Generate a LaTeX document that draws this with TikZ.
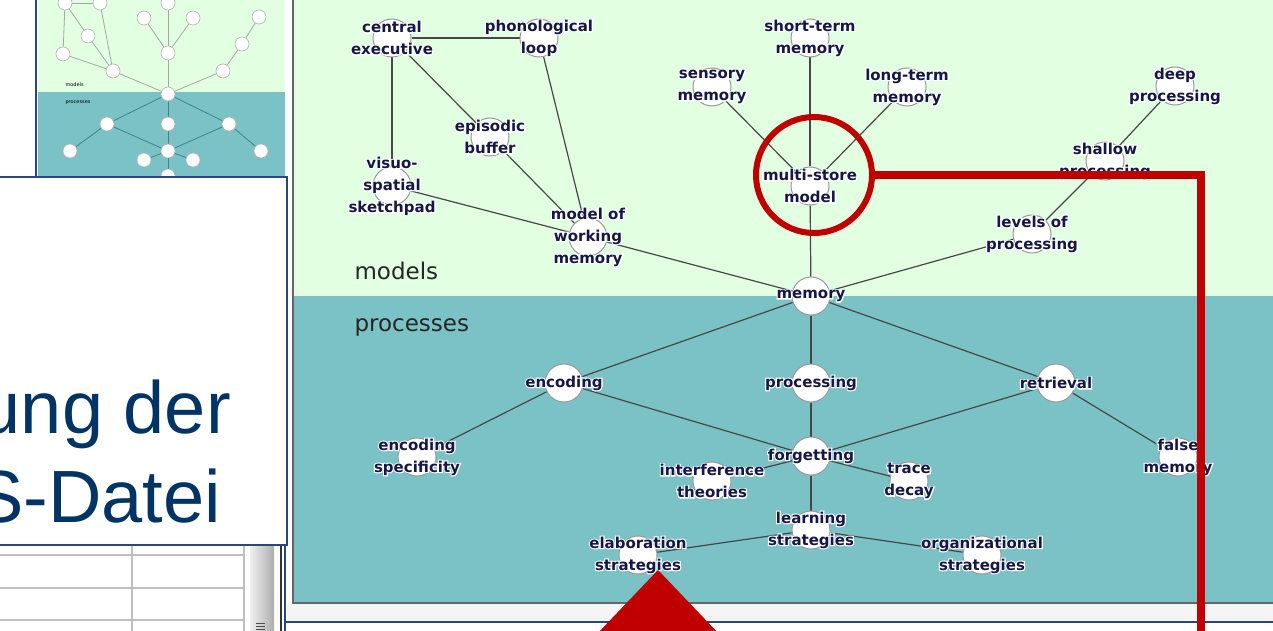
\documentclass[tikz,border=0pt]{standalone}
\usepackage{fontspec}
\setmainfont{DejaVu Sans}
\newfontfamily\lblfont{DejaVu Sans Bold}
\newfontfamily\halofont{DejaVu Sans Bold}[FakeBold=15,Color=FFFFFF]
\newfontfamily\bigfont{Liberation Sans}
\definecolor{panelgreen}{RGB}{226,255,226}
\definecolor{panelteal}{RGB}{123,194,198}
\definecolor{minilink}{RGB}{62,132,138}
\definecolor{hired}{RGB}{192,0,0}
\definecolor{navy}{RGB}{22,22,72}
\definecolor{slideblue}{RGB}{0,51,102}
\definecolor{boxblue}{RGB}{38,72,122}
\pgfdeclarelayer{back}
\pgfdeclarelayer{links}
\pgfsetlayers{back,links,main}
\begin{document}
\begin{tikzpicture}[x=1pt,y=-1pt,
    dot/.style={circle,draw=black!40,fill=white,line width=1pt,minimum size=38pt,inner sep=0pt},
    minidot/.style={circle,draw=black!30,fill=white,line width=0.6pt,minimum size=14pt,inner sep=0pt},
    lbl/.style={font=\lblfont\fontsize{15}{22}\selectfont,text=navy,align=center,inner sep=0pt},
    halo/.style={lbl,font=\halofont\fontsize{15}{22}\selectfont},
    link/.style={draw=black!72,line width=1.2pt},
    bigtxt/.style={font=\bigfont\fontsize{74}{74}\selectfont,text=slideblue,inner sep=0pt}]
    \useasboundingbox (0,0) rectangle (1273,631);
    \clip (0,0) rectangle (1273,631);

    % panels
    \begin{pgfonlayer}{back}
        \fill[panelgreen] (294,0) rectangle (1273,296);
        \fill[panelteal] (294,296) rectangle (1273,603);
        \draw[black!60,line width=1.5pt] (293,0) -- (293,603) -- (1273,603);
        \fill[black!4] (287,604) rectangle (1273,621);
        \draw[boxblue,line width=2.5pt] (285,622) -- (1273,622);
        \draw[boxblue,line width=2pt] (285,545) -- (285,631);
        \fill[panelgreen] (38,0) rectangle (285,92);
        \fill[panelteal] (38,92) rectangle (285,177);
        \draw[boxblue,line width=2pt] (36,0) -- (36,177);
    \end{pgfonlayer}

    % main map
    \foreach \n/\p/\t in {
        ce/{392,38}/{central\\executive},
        pl/{539,38}/{phonological\\loop},
        eb/{490,137}/{episodic\\buffer},
        vs/{392,186}/{visuo-\\spatial\\sketchpad},
        wm/{588,237}/{model of\\working\\memory},
        stm/{810,38}/{short-term\\memory},
        sm/{712,87}/{sensory\\memory},
        ltm/{907,87}/{long-term\\memory},
        ms/{810,186}/{multi-store\\model},
        dp/{1175,86}/{deep\\processing},
        sp/{1105,161}/{shallow\\processing},
        lp/{1032,234}/{levels of\\processing},
        mem/{811,296}/{memory},
        enc/{564,383}/{encoding},
        proc/{811,383}/{processing},
        ret/{1056,383}/{retrieval},
        es/{417,457}/{encoding\\specificity},
        fg/{811,456}/{forgetting},
        it/{712,481}/{interference\\theories},
        td/{909,481}/{trace\\decay},
        fm/{1178,457}/{false\\memory},
        ls/{811,530}/{learning\\strategies},
        el/{638,555}/{elaboration\\strategies},
        os/{982,555}/{organizational\\strategies}}
        \node[dot,label={[halo]center:\t},label={[lbl]center:\t}] (\n) at (\p) {};

    \node[anchor=west,font=\fontsize{23}{23}\selectfont,text=black!85] (models) at (351,271) {models};
    \node[anchor=west,font=\fontsize{23}{23}\selectfont,text=black!85] (procs) at (351,327) {processes};

    % thumbnail
    \foreach \n/\p in {ce/{65,3},pl/{100,3},stm/{168,3},sm/{144,18},ltm/{193,18},dp/{259,17},
        eb/{88,36},vs/{63,54},ms/{168,53},sp/{242,44},wm/{113,71},lp/{223,71},mem/{168,94},
        enc/{107,124},proc/{168,124},ret/{229,124},es/{70,151},fg/{168,151},fm/{261,151},
        it/{144,160},td/{193,160},ls/{168,176}}
        \node[minidot] (m\n) at (\p) {};
    \node[anchor=west,font=\fontsize{5}{5}\selectfont] (mmodels) at (62,85) {models};
    \node[anchor=west,font=\fontsize{5}{5}\selectfont] (mprocs) at (62,103) {processes};

    \begin{pgfonlayer}{links}
        \foreach \a/\b in {ce/pl,ce/vs,ce/eb,eb/wm,pl/wm,vs/wm,wm/mem,stm/ms,sm/ms,ltm/ms,
            ms/mem,mem/lp,lp/sp,sp/dp} {
            \draw[link] (\a) -- (\b);
            \draw[black!35,line width=0.8pt] (m\a) -- (m\b);
        }
        \foreach \a/\b in {mem/enc,mem/proc,mem/ret,enc/es,enc/fg,proc/fg,ret/fg,ret/fm,
            fg/it,fg/td,fg/ls} {
            \draw[link] (\a) -- (\b);
            \draw[minilink,line width=0.8pt] (m\a) -- (m\b);
        }
        \draw[link] (ls) -- (el);
        \draw[link] (ls) -- (os);
    \end{pgfonlayer}

    % slide box and table
    \draw[boxblue,line width=1.5pt,fill=white] (-2,177) rectangle (287,545);
    \node[bigtxt,anchor=base east] (line1) at (231,433) {ung der};
    \node[bigtxt,anchor=base east] (line2) at (221,522) {S-Datei};
    \draw[black!25,line width=1.5pt] (0,555) -- (245,555) (0,588) -- (245,588) (0,620) -- (245,620)
        (132,546) -- (132,631) (244,546) -- (244,631);
    \shade[left color=black!6,right color=black!32] (250,546) rectangle (274,631);
    \draw[black!80,line width=2pt] (281,546) -- (281,631);
    \draw[black!70,line width=0.8pt] (256,623) -- (265,623) (256,626) -- (265,626) (256,629) -- (265,629);

    % highlight
    \node[circle,draw=hired,line width=6pt,minimum size=116pt,inner sep=0pt] (hl) at (814,175) {};
    \coordinate (hlend) at (1201,640);
    \draw[hired,line width=7.5pt] (hl.east) -| (hlend);
    \fill[hired] (658,570) -- (596,635) -- (720,635) -- cycle;
\end{tikzpicture}
\end{document}
